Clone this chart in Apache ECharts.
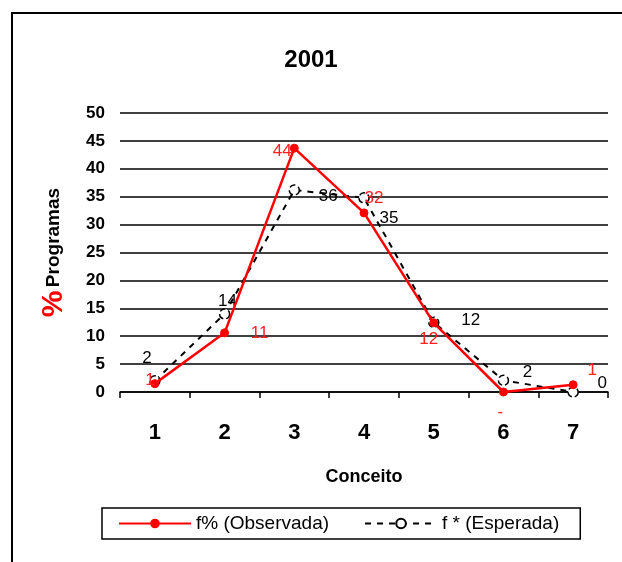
<!DOCTYPE html>
<html><head><meta charset="utf-8">
<script src="https://cdn.jsdelivr.net/npm/echarts@6/dist/echarts.min.js"></script>
<style>html,body{margin:0;padding:0;background:#fff}#c{width:622px;height:562px}</style>
</head><body><div id="c"></div>
<script>
const categories = ['1','2','3','4','5','6','7'];
const observed = [1.5, 10.6, 43.7, 32.1, 12.4, 0, 1.3];
const expected = [2, 14, 36.2, 34.8, 12.5, 2.1, 0];
const observedLabels = ['1','11','44','32','12','-','1'];
const expectedLabels = ['2','14','36','35','12','2','0'];
const yTicks = [0,5,10,15,20,25,30,35,40,45,50];

const obsLabelPos = [[-5,-3],[35,0],[-12,3],[10,-15],[-5,17],[-3,20],[19,-14]];
const expLabelPos = [[-8,-23],[3,-13],[34,6],[25,20],[37,-2],[24,-8],[29,-9]];

const chart = echarts.init(document.getElementById('c'));
const font = 'Liberation Sans, Arial, sans-serif';
chart.setOption({
  animation:false,
  textStyle:{fontFamily:font},
  title:{text:'2001', left:'center', top:43, textStyle:{fontSize:24, fontWeight:'bold', color:'#000', fontFamily:font}},
  graphic:[{type:'rect', shape:{x:12,y:13,width:700,height:700}, style:{fill:'none', stroke:'#000', lineWidth:2}, z:-1}],
  grid:{left:120, right:14, top:113, bottom:170},
  legend:{
    data:['f% (Observada)','f * (Esperada)'],
    left:102, top:508,
    padding:[6,21,6,16], itemGap:35,
    itemWidth:72, itemHeight:12,
    borderColor:'#000', borderWidth:1.5,
    textStyle:{fontSize:19, color:'#000', fontFamily:font}
  },
  xAxis:{
    type:'category', data:categories, boundaryGap:true,
    name:'Conceito', nameLocation:'middle', nameGap:76,
    nameTextStyle:{fontSize:18, fontWeight:'bold', color:'#000', fontFamily:font},
    axisLine:{lineStyle:{color:'#000', width:1.5}},
    axisTick:{show:true, length:6, lineStyle:{color:'#000', width:1.5}},
    axisLabel:{fontSize:22, fontWeight:'bold', color:'#000', margin:30, fontFamily:font}
  },
  yAxis:{
    type:'value', min:0, max:50, interval:5,
    name:'{p|%} {b|Programas}', nameLocation:'middle', nameGap:51, nameRotate:90,
    nameTextStyle:{rich:{
      p:{fontSize:30, fontWeight:'bold', color:'#ff0000', fontFamily:font},
      b:{fontSize:19, fontWeight:'bold', color:'#000', fontFamily:font}
    }},
    axisLine:{show:false}, axisTick:{show:false},
    axisLabel:{fontSize:17, fontWeight:'bold', color:'#000', margin:15, fontFamily:font,
      formatter:v=>yTicks.includes(v)?String(v):''},
    splitLine:{lineStyle:{color:'#000', width:1.5}}
  },
  series:[
    {
      name:'f * (Esperada)', type:'line', data:expected.map((v,i)=>({value:v,
        label:{show:true, formatter:expectedLabels[i], offset:expLabelPos[i], position:'inside'}})),
      symbol:'circle', symbolSize:10, z:2,
      lineStyle:{color:'#000', width:2, type:[6,6]},
      itemStyle:{color:'#fff', borderColor:'#000', borderWidth:1.5, borderType:'dashed'},
      label:{fontSize:17, color:'#000', fontFamily:font}
    },
    {
      name:'f% (Observada)', type:'line', data:observed.map((v,i)=>({value:v,
        label:{show:true, formatter:observedLabels[i], offset:obsLabelPos[i], position:'inside'}})),
      symbol:'circle', symbolSize:8, z:3,
      lineStyle:{color:'#ff0000', width:2.5},
      itemStyle:{color:'#ff0000', borderColor:'#ff0000'},
      label:{fontSize:17, color:'#ff2020', fontFamily:font}
    }
  ]
});
</script></body></html>
